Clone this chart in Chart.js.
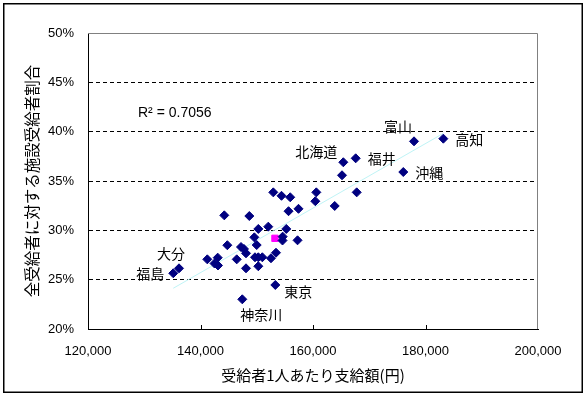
<!DOCTYPE html>
<html>
<head>
<meta charset="utf-8">
<script src="https://cdn.jsdelivr.net/npm/chart.js@4"></script>
<style>
  html, body { margin: 0; padding: 0; background: #fff; }
  #wrap { width: 588px; height: 396px; }
</style>
</head>
<body>
<div id="wrap"><canvas id="chart" width="588" height="396"></canvas></div>
<script>
// values
const payPerRecipient = [
  135160, 136180, 141210, 143060, 142490, 143110, 144230, 144770, 146440, 147200,
  147730, 148090, 148090, 147430, 148680, 149570, 149990, 149690, 150280, 150990,
  150280, 150280, 152050, 152530, 153420, 153300, 152940, 154400, 155950, 155650,
  157420, 154610, 154580, 155250, 157250, 160590, 160410, 163860, 165160, 165390,
  167590, 167770, 176050, 177960, 183170
];
const facilityShare = [
  25.65, 26.15, 27.06, 27.23, 26.64, 26.44, 31.52, 28.49, 27.06, 28.31,
  28.11, 27.67, 26.15, 23.01, 31.45, 29.29, 28.51, 27.27, 27.27, 27.27,
  26.36, 30.14, 30.37, 27.17, 27.73, 24.46, 33.85, 33.50, 33.35, 31.94,
  32.18, 29.36, 28.97, 30.14, 28.99, 33.85, 32.95, 32.47, 35.58, 36.90,
  37.30, 33.85, 35.91, 39.02, 39.29
];
const prefNames = [
  '福島', '大分', '', '', '', '', '', '', '', '',
  '', '', '', '神奈川', '', '', '', '', '', '',
  '', '', '', '', '', '東京', '', '', '', '',
  '', '', '', '', '', '', '', '', '', '北海道',
  '福井', '', '沖縄', '富山', '高知'
];
const nationalX = [153240];
const nationalY = [29.19];
const trendX = [135160, 183170];
const trendY = [24.13, 39.83];
const xTicks = [120000, 140000, 160000, 180000, 200000];
const yTicks = [20, 25, 30, 35, 40, 45, 50];
const rSquared = 'R² = 0.7056';

const jpFont = '"Noto Sans CJK JP", sans-serif';
const numFont = '"Liberation Sans", Arial, sans-serif';

// where each name sits relative to its marker
const labelPlace = {
  '福島': { align: 'right', dx: -9, dy: 0 },
  '大分': { align: 'center', dx: -8, dy: -15 },
  '東京': { align: 'left', dx: 9, dy: 7 },
  '神奈川': { align: 'center', dx: 19, dy: 15 },
  '北海道': { align: 'center', dx: -27, dy: -11 },
  '福井': { align: 'left', dx: 12, dy: 0 },
  '沖縄': { align: 'left', dx: 12, dy: 1 },
  '富山': { align: 'center', dx: -16, dy: -15 },
  '高知': { align: 'left', dx: 12, dy: 1 },
};

const framePlugin = {
  id: 'frame',
  beforeDraw(c) {
    const ctx = c.ctx;
    ctx.save();
    ctx.fillStyle = '#fff';
    ctx.fillRect(0, 0, c.width, c.height);
    ctx.strokeStyle = '#000';
    ctx.lineWidth = 1.5;
    ctx.strokeRect(3.75, 3.75, 578.5, 388.5);
    ctx.restore();
  },
  beforeDatasetsDraw(c) {
    const { ctx, chartArea: a, scales } = c;
    ctx.save();
    // top and right edges of the plot area in grey
    ctx.strokeStyle = '#808080';
    ctx.lineWidth = 1;
    ctx.beginPath();
    ctx.moveTo(a.left, a.top + 0.5);
    ctx.lineTo(a.right - 0.5, a.top + 0.5);
    ctx.lineTo(a.right - 0.5, a.bottom);
    ctx.stroke();
    // small inside tick marks on the x axis
    ctx.strokeStyle = '#000';
    ctx.beginPath();
    xTicks.slice(1, -1).forEach(v => {
      const px = Math.round(scales.x.getPixelForValue(v)) + 0.5;
      ctx.moveTo(px, a.bottom);
      ctx.lineTo(px, a.bottom - 4);
    });
    ctx.stroke();
    ctx.restore();
  },
  afterDatasetsDraw(c) {
    const { ctx, chartArea: a } = c;
    const meta = c.getDatasetMeta(0);
    ctx.save();
    ctx.fillStyle = '#000';
    ctx.textBaseline = 'middle';
    ctx.font = '14px ' + jpFont;
    prefNames.forEach((name, i) => {
      if (!name) return;
      const p = labelPlace[name];
      const pt = meta.data[i];
      ctx.textAlign = p.align;
      ctx.fillText(name, pt.x + p.dx, pt.y + p.dy);
    });
    ctx.textAlign = 'left';
    ctx.font = '14px ' + numFont;
    ctx.fillText(rSquared, a.left + 50, a.top + 80);
    ctx.restore();
  }
};

new Chart(document.getElementById('chart'), {
  type: 'scatter',
  data: {
    datasets: [
      {
        label: 'prefectures',
        data: payPerRecipient.map((x, i) => ({ x, y: facilityShare[i] })),
        pointStyle: 'rectRot',
        pointRadius: 4.5,
        borderWidth: 1,
        backgroundColor: '#000080',
        borderColor: '#000080',
      },
      {
        label: 'national',
        data: nationalX.map((x, i) => ({ x, y: nationalY[i] })),
        pointStyle: 'rect',
        pointRadius: 4.5,
        borderWidth: 1,
        backgroundColor: '#ff00ff',
        borderColor: '#ff00ff',
      },
      {
        label: 'trend',
        type: 'line',
        data: trendX.map((x, i) => ({ x, y: trendY[i] })),
        borderColor: '#bff4f6',
        borderWidth: 1,
        pointRadius: 0,
        fill: false,
      },
    ],
  },
  options: {
    responsive: false,
    animation: false,
    devicePixelRatio: 1,
    layout: { padding: { top: 33, right: 50, left: 0, bottom: 0 } },
    plugins: {
      legend: { display: false },
      tooltip: { enabled: false },
    },
    scales: {
      x: {
        type: 'linear',
        min: 120000,
        max: 200000,
        afterFit: s => { s.height = 67; },
        afterBuildTicks: s => { s.ticks = xTicks.map(v => ({ value: v })); },
        ticks: {
          color: '#000',
          font: { family: numFont, size: 13 },
          padding: 15,
          maxRotation: 0,
          callback: v => v.toLocaleString('en-US'),
        },
        grid: { display: false, drawTicks: false },
        border: { display: true, color: '#000', width: 1 },
        title: {
          display: true,
          text: '受給者1人あたり支給額(円)',
          color: '#000',
          font: { family: jpFont, size: 15 },
          padding: { top: 0, bottom: 12 },
        },
      },
      y: {
        type: 'linear',
        min: 20,
        max: 50,
        afterFit: s => { s.width = 88; },
        afterBuildTicks: s => { s.ticks = yTicks.map(v => ({ value: v })); },
        ticks: {
          color: '#000',
          font: { family: numFont, size: 13 },
          padding: 14,
          callback: v => v + '%',
        },
        grid: {
          drawTicks: false,
          color: ctx => (ctx.tick && ctx.tick.value > 20 && ctx.tick.value < 50) ? '#000' : 'rgba(0,0,0,0)',
          lineWidth: 1,
        },
        border: { display: true, color: '#000', width: 1, dash: [4, 3] },
        title: {
          display: true,
          text: '全受給者に対する施設受給者割合',
          color: '#000',
          font: { family: jpFont, size: 15.5 },
          padding: { top: 23, bottom: 0 },
        },
      },
    },
  },
  plugins: [framePlugin],
});
</script>
</body>
</html>
